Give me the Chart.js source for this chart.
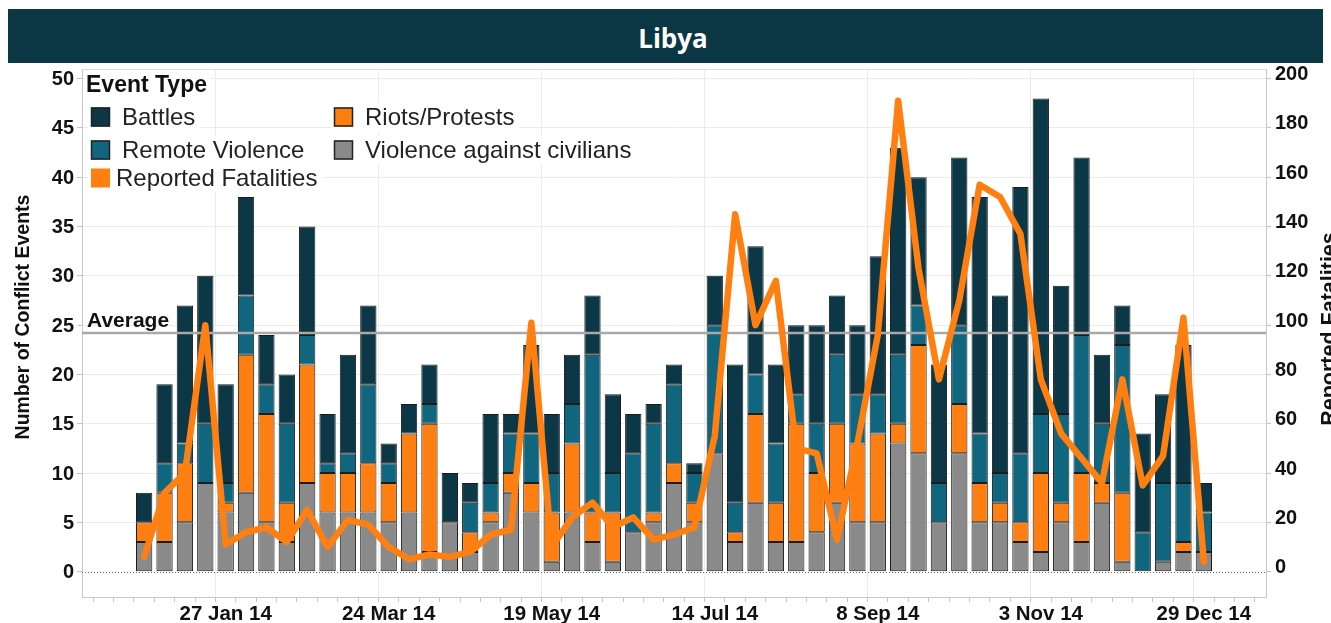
<!DOCTYPE html>
<html><head><meta charset="utf-8">
<script src="https://cdn.jsdelivr.net/npm/chart.js@4/dist/chart.umd.min.js"></script>
<style>
html,body{margin:0;padding:0;background:#fff;width:1331px;height:623px;overflow:hidden;}
#wrap{position:absolute;left:0;top:0;width:1331px;height:623px;}
#banner{position:absolute;left:8px;top:9px;width:1315px;height:54px;background:#0b3745;color:#fff;
 font:bold 26px "Open Sans",sans-serif;display:flex;align-items:center;justify-content:center;
 padding-left:15px;padding-top:3px;box-sizing:border-box;}
</style></head><body>
<div id="wrap"><canvas id="c" width="1331" height="623"></canvas></div>
<div id="banner">Libya</div>
<script>
// ---- data ----
const weeks = ["30 Dec 13","6 Jan 14","13 Jan 14","20 Jan 14","27 Jan 14","3 Feb 14","10 Feb 14","17 Feb 14","24 Feb 14",
 "3 Mar 14","10 Mar 14","17 Mar 14","24 Mar 14","31 Mar 14","7 Apr 14","14 Apr 14","21 Apr 14","28 Apr 14",
 "5 May 14","12 May 14","19 May 14","26 May 14","2 Jun 14","9 Jun 14","16 Jun 14","23 Jun 14","30 Jun 14",
 "7 Jul 14","14 Jul 14","21 Jul 14","28 Jul 14","4 Aug 14","11 Aug 14","18 Aug 14","25 Aug 14","1 Sep 14",
 "8 Sep 14","15 Sep 14","22 Sep 14","29 Sep 14","6 Oct 14","13 Oct 14","20 Oct 14","27 Oct 14","3 Nov 14",
 "10 Nov 14","17 Nov 14","24 Nov 14","1 Dec 14","8 Dec 14","15 Dec 14","22 Dec 14","29 Dec 14"];
const violenceCivilians = [3,3,5,9,6,8,5,3,9,6,6,6,5,6,2,5,2,5,8,6,1,6,3,1,4,5,9,5,12,3,7,3,3,4,7,5,5,13,12,5,12,5,5,3,2,5,3,7,1,0,1,2,2];
const riotsProtests     = [2,5,6,0,1,14,11,4,12,4,4,5,4,8,13,0,2,1,2,3,5,7,3,5,0,1,2,2,0,1,9,4,12,6,8,8,9,2,11,0,5,4,2,2,8,2,7,2,7,0,0,1,0];
const remoteViolence    = [0,3,2,6,2,6,3,8,3,1,2,8,2,0,2,0,3,3,4,5,4,4,16,4,8,9,8,3,13,3,4,6,3,5,7,5,4,7,4,4,8,5,3,7,6,9,14,6,15,4,8,6,4];
const battles           = [3,8,14,15,10,10,5,5,11,5,10,8,2,3,4,5,2,7,2,9,6,5,6,8,4,2,2,1,5,14,13,8,7,10,6,7,14,21,13,12,17,24,18,27,32,13,18,7,4,10,9,14,3];
const fatalities        = [6,32,40,100,11,16,18,12,25,10,21,19,10,5,7,6,8,15,17,101,10,22,28,18,22,13,15,18,55,145,100,118,50,48,13,52,96,191,123,78,110,157,152,137,78,56,46,36,78,35,47,103,4];
const xTickLabels = ["27 Jan 14","24 Mar 14","19 May 14","14 Jul 14","8 Sep 14","3 Nov 14","29 Dec 14"];
const yTickValues = [0,5,10,15,20,25,30,35,40,45,50];
const y1TickValues = [0,20,40,60,80,100,120,140,160,180,200];
const averageEvents = 24.2;

// ---- styles ----
const C = {battles:'#0b3746', remote:'#10667f', riots:'#fd7f12', civ:'#8a8a8a', line:'#ff7f10', border:'#1c1c1c'};
const FONT = '"Liberation Sans", Arial, sans-serif';
const X_MIN = -3.05, X_MAX = 55.05, Y_MIN = -2.57, Y_MAX = 50.98;

const pts = arr => arr.map((v,i)=>({x:i,y:v}));
const barDs = (label, arr, color) => ({type:'bar', label, data:pts(arr), backgroundColor:color,
  borderColor:C.border, borderWidth:1, borderSkipped:false, barPercentage:0.8, categoryPercentage:1,
  yAxisID:'y', order:3});

const extras = {
  id:'extras',
  beforeDatasetsDraw(chart){
    const {ctx, chartArea:a, scales:{y}} = chart;
    ctx.save();
    ctx.strokeStyle='#dcdcdc'; ctx.lineWidth=1;
    ctx.beginPath(); ctx.moveTo(a.left, a.top+0.5); ctx.lineTo(a.right, a.top+0.5); ctx.stroke();
    const y0 = Math.round(y.getPixelForValue(0))+0.5;
    ctx.strokeStyle='#666'; ctx.setLineDash([1,2]);
    ctx.beginPath(); ctx.moveTo(a.left, y0); ctx.lineTo(a.right, y0); ctx.stroke();
    ctx.restore();
  },
  afterDraw(chart){
    const {ctx, chartArea:a, scales:{y}} = chart;
    ctx.save();
    // Average label
    const ya = y.getPixelForValue(averageEvents);
    ctx.font = 'bold 21px '+FONT; ctx.fillStyle='#111'; ctx.textBaseline='alphabetic'; ctx.textAlign='left';
    ctx.fillText('Average', 87, ya-6);
    // axis titles
    ctx.font = 'bold 19.5px '+FONT; ctx.textAlign='center'; ctx.textBaseline='middle';
    ctx.save(); ctx.translate(24, 317); ctx.rotate(-Math.PI/2); ctx.fillText('Number of Conflict Events',0,0); ctx.restore();
    ctx.font = 'bold 21.5px '+FONT;
    ctx.save(); ctx.translate(1330, 329); ctx.rotate(-Math.PI/2); ctx.fillText('Reported Fatalities',0,0); ctx.restore();
    // legend
    const ds = chart.data.datasets;
    const find = l => ds.find(d=>d.label===l);
    const items = [
      {l:'Battles', sx:91, tx:122, cy:117, border:true},
      {l:'Riots/Protests', sx:334, tx:365, cy:117, border:true},
      {l:'Remote Violence', sx:91, tx:122, cy:150, border:true},
      {l:'Violence against civilians', sx:334, tx:365, cy:150, border:true},
      {l:'Reported Fatalities', sx:91, tx:116, cy:178, border:false}
    ];
    ctx.font = 'bold 23px '+FONT; ctx.textAlign='left'; ctx.textBaseline='middle';
    let w = ctx.measureText('Event Type').width;
    ctx.fillStyle='#fff'; ctx.fillRect(84, 71, w+6, 28);
    ctx.fillStyle='#111'; ctx.fillText('Event Type', 86, 86);
    ctx.font = '24px '+FONT;
    items.forEach(it=>{
      const d = find(it.l);
      const col = d.type==='line' ? d.borderColor : d.backgroundColor;
      w = ctx.measureText(it.l).width;
      ctx.fillStyle='#fff'; ctx.fillRect(it.sx-3, it.cy-14, it.tx-it.sx+w+8, 28);
      ctx.fillStyle=col; ctx.fillRect(it.sx, it.cy-9.5, 19, 19);
      if(it.border){ ctx.strokeStyle='#222'; ctx.lineWidth=1.5; ctx.strokeRect(it.sx+0.5, it.cy-9, 18, 18); }
      ctx.fillStyle='#222'; ctx.fillText(it.l, it.tx, it.cy+1);
    });
    ctx.restore();
  }
};

new Chart(document.getElementById('c'), {
  data:{
    datasets:[
      barDs('Violence against civilians', violenceCivilians, C.civ),
      barDs('Riots/Protests', riotsProtests, C.riots),
      barDs('Remote Violence', remoteViolence, C.remote),
      barDs('Battles', battles, C.battles),
      {type:'line', label:'Average', data:[{x:X_MIN,y:averageEvents},{x:X_MAX,y:averageEvents}],
        borderColor:'#a9a9a9', borderWidth:2.5, pointRadius:0, yAxisID:'y', order:2, stack:'avg'},
      {type:'line', label:'Reported Fatalities', data:pts(fatalities), borderColor:C.line, borderWidth:6.5,
        pointRadius:0, tension:0, borderCapStyle:'round', borderJoinStyle:'round', yAxisID:'y1', order:1}
    ]
  },
  options:{
    responsive:false, animation:false,
    layout:{padding:{top:69,left:0,right:0,bottom:0}},
    plugins:{legend:{display:false}, tooltip:{enabled:false}},
    scales:{
      x:{type:'linear', stacked:true, min:X_MIN, max:X_MAX, offset:false,
        afterBuildTicks:s=>{ const t=[]; for(let i=-2;i<=54;i++) t.push({value:i}); s.ticks=t; },
        afterFit:s=>{ s.height=26; },
        ticks:{autoSkip:false, maxRotation:0, padding:0, color:'#111', font:{family:FONT, weight:'bold', size:20.5},
          callback:v=>{ const w=weeks[v]; return (w && xTickLabels.includes(w)) ? w : ''; }},
        grid:{color:c=>{ const w=weeks[c.tick && c.tick.value]; return (w && xTickLabels.includes(w)) ? '#ececec' : 'rgba(0,0,0,0)'; },
          tickColor:'#c4c4c4', tickLength:5},
        border:{display:true, color:'#c8c8c8'}
      },
      y:{type:'linear', position:'left', stacked:true, min:Y_MIN, max:Y_MAX,
        afterBuildTicks:s=>{ s.ticks = yTickValues.map(v=>({value:v})); },
        afterFit:s=>{ s.width=82; },
        ticks:{padding:3, labelOffset:1, color:'#111', font:{family:FONT, weight:'bold', size:20}},
        grid:{color:c=>(c.tick && c.tick.value===0) ? 'rgba(0,0,0,0)' : '#ececec', tickColor:'#c4c4c4', tickLength:5},
        border:{display:true, color:'#c8c8c8'}
      },
      y1:{type:'linear', position:'right', min:Y_MIN*4, max:Y_MAX*4,
        afterBuildTicks:s=>{ s.ticks = y1TickValues.map(v=>({value:v})); },
        afterFit:s=>{ s.width=65; },
        ticks:{padding:4, labelOffset:-4, color:'#111', font:{family:FONT, weight:'bold', size:20}},
        grid:{drawOnChartArea:false, tickColor:'#c4c4c4', tickLength:5},
        border:{display:true, color:'#c8c8c8'}
      }
    }
  },
  plugins:[extras]
});
</script>
</body></html>
